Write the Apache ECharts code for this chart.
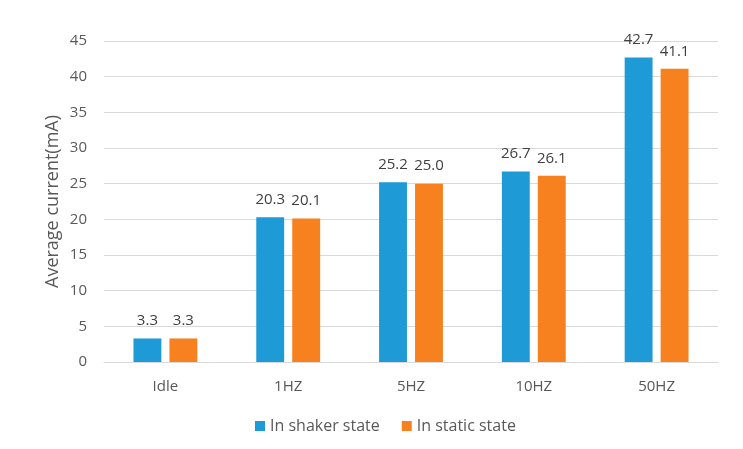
<!DOCTYPE html>
<html><head><meta charset="utf-8">
<script src="https://cdn.jsdelivr.net/npm/echarts@6/dist/echarts.min.js"></script>
<style>html,body{margin:0;padding:0;background:#fff}#c{width:743px;height:449px}</style>
</head><body><div id="c"></div>
<script>
const categories = ["Idle", "1HZ", "5HZ", "10HZ", "50HZ"];
const shaker = [3.3, 20.3, 25.2, 26.7, 42.7];
const staticState = [3.3, 20.1, 25.0, 26.1, 41.1];
const seriesNames = ["In shaker state", "In static state"];
const yName = "Average current(mA)";

const chart = echarts.init(document.getElementById('c'));
const font = "'Open Sans', sans-serif";
const lbl = {show: true, position: 'top', distance: 10, color: '#404040', fontSize: 15, fontFamily: font, formatter: p => p.value.toFixed(1)};
chart.setOption({
  animation: false,
  grid: {left: 104, right: 25, top: 41, bottom: 87},
  legend: {bottom: 10, left: 250, itemWidth: 10, itemHeight: 10, itemGap: 22, icon: 'rect',
    textStyle: {color: '#595959', fontSize: 16, fontFamily: font}, data: seriesNames},
  xAxis: {type: 'category', data: categories,
    axisLine: {lineStyle: {color: '#d9d9d9', width: 1}}, axisTick: {show: false},
    axisLabel: {color: '#595959', fontSize: 15, fontFamily: font, margin: 17}},
  yAxis: {type: 'value', min: 0, max: 45, interval: 5, name: yName, nameLocation: 'middle', nameGap: 42,
    nameMoveOverlap: false,
    nameTextStyle: {color: '#595959', fontSize: 18, fontFamily: font},
    axisLabel: {color: '#595959', fontSize: 15, fontFamily: font, margin: 17},
    splitLine: {lineStyle: {color: '#d9d9d9', width: 1}}},
  series: [
    {name: seriesNames[0], type: 'bar', data: shaker, itemStyle: {color: '#1E9AD6'}, barGap: '29%', barCategoryGap: '48%', label: lbl},
    {name: seriesNames[1], type: 'bar', data: staticState, itemStyle: {color: '#F7801F'}, label: lbl}
  ]
});
</script></body></html>
